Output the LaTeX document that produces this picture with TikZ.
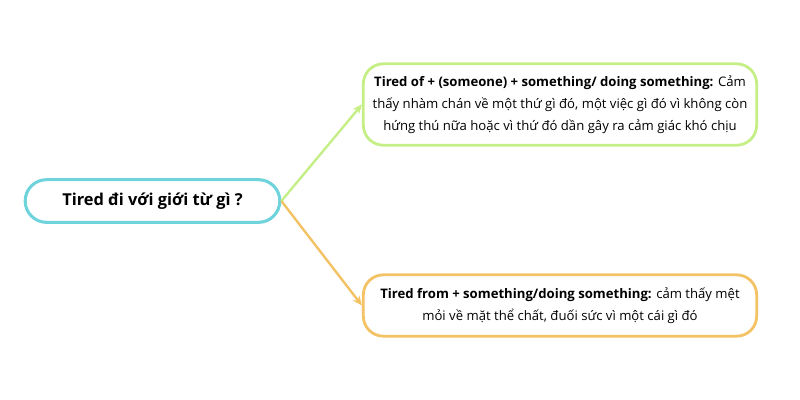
\documentclass[tikz,border=0pt]{standalone}
\usepackage{fontspec}
\setmainfont{Open Sans}
\usetikzlibrary{arrows.meta}
\definecolor{rootcyan}{HTML}{6ED3DA}
\definecolor{ofgreen}{HTML}{C5EF86}
\definecolor{fromorange}{HTML}{F2C265}
\tikzset{
	rootbox/.style={draw=rootcyan, line width=2.3pt, rounded corners=16pt, minimum width=191pt, minimum height=32pt, font=\fontsize{12.3}{14}\selectfont\bfseries},
	leafbox/.style={line width=2.1pt, rounded corners=15pt, minimum width=295pt, align=center, font=\fontsize{9.85}{16.5}\selectfont},
	branch/.style={line width=1.8pt, -{Stealth[length=7pt,width=6pt,inset=2pt]}}
}
\begin{document}
\begin{tikzpicture}[x=0.75pt,y=-0.75pt]
			%%%%% START %%%%%
			\useasboundingbox (0,0) rectangle (800,400);
			
			\node[rootbox] (root) at (152.5,201) {Tired đi với giới từ gì ?};
			
			\node[leafbox, draw=ofgreen, minimum height=61pt] (of) at (560,104.5) {\textbf{Tired of + (someone) + something/ doing something:} Cảm\\thấy nhàm chán về một thứ gì đó, một việc gì đó vì không còn\\hứng thú nữa hoặc vì thứ đó dần gây ra cảm giác khó chịu};
			
			\node[leafbox, draw=fromorange, minimum height=46pt] (from) at (560,305.5) {\textbf{Tired from + something/doing something:} cảm thấy mệt\\mỏi về mặt thể chất, đuối sức vì một cái gì đó};
			
			\draw[branch, ofgreen] (root.east) -- (of.west);
			\draw[branch, fromorange] (root.east) -- (from.west);
			
			%%%%% END %%%%%
		\end{tikzpicture}
\end{document}
